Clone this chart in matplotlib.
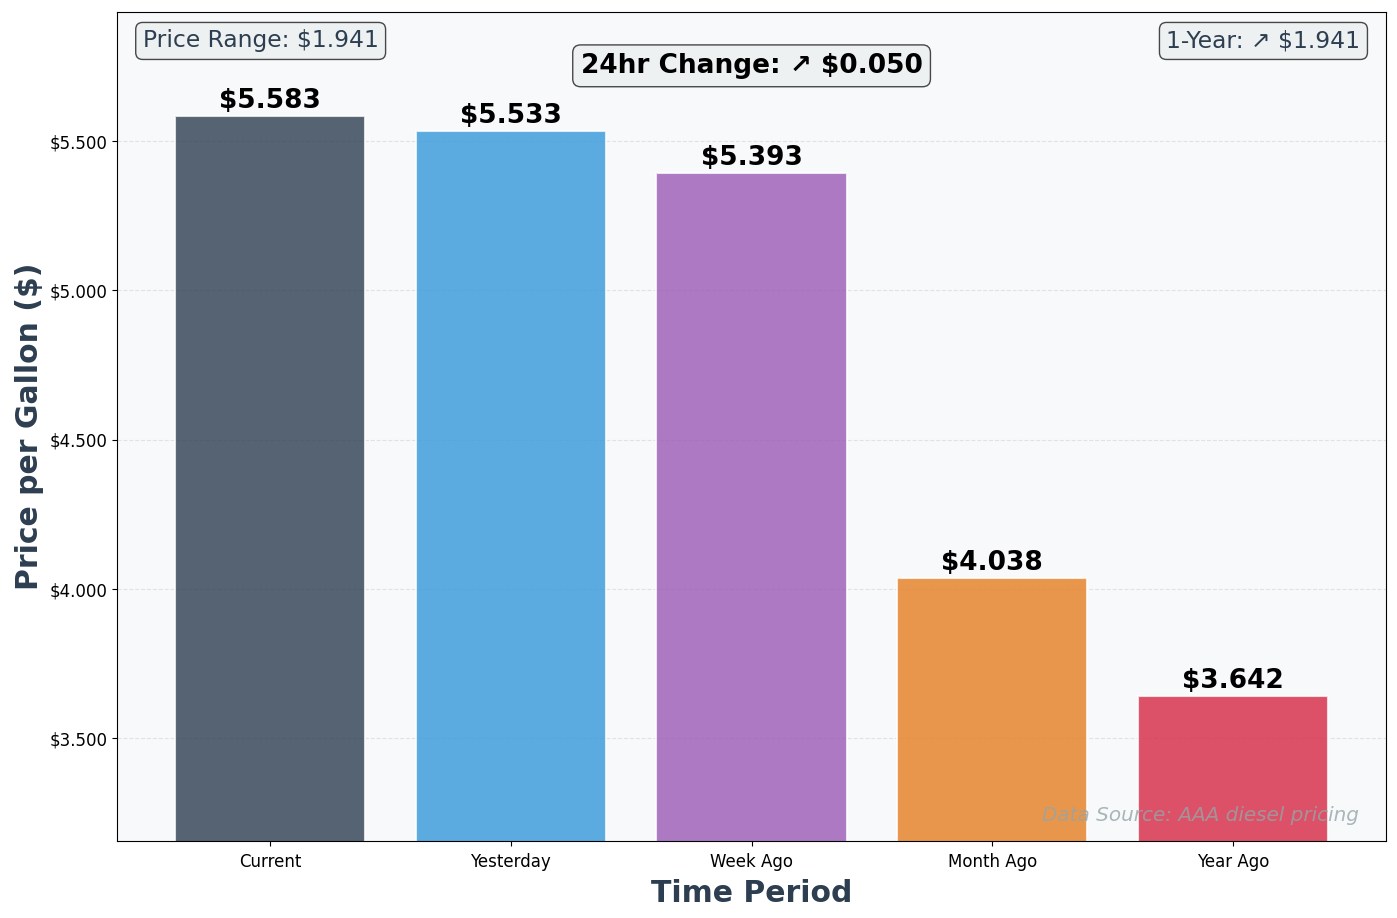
import matplotlib
matplotlib.use("Agg")
import matplotlib.pyplot as plt
from matplotlib.ticker import FuncFormatter

# data
periods = ["Current", "Yesterday", "Week Ago", "Month Ago", "Year Ago"]
prices = [5.583, 5.533, 5.393, 4.038, 3.642]
colors = ["#2c3e50", "#3498db", "#9b59b6", "#e67e22", "#d62744"]

price_range = max(prices) - min(prices)
change_24h = prices[0] - prices[1]
change_1y = prices[0] - prices[4]

fig, ax = plt.subplots(figsize=(13.97, 9.18), dpi=100)
fig.subplots_adjust(left=0.084, right=0.992, top=0.987, bottom=0.084)
ax.set_facecolor("#f8f9fa")

bars = ax.bar(periods, prices, width=0.79, color=colors, alpha=0.8,
              edgecolor="white", linewidth=1.5)

# value labels
for b, p in zip(bars, prices):
    ax.text(b.get_x() + b.get_width() / 2, p + 0.006, f"${p:.3f}",
            ha="center", va="bottom", fontsize=19, fontweight="bold")

ax.set_ylim(min(prices) - 0.25 * price_range, max(prices) + 0.18 * price_range)
ax.set_yticks([3.5, 4.0, 4.5, 5.0, 5.5])
ax.yaxis.set_major_formatter(FuncFormatter(lambda v, _: f"${v:.3f}"))
ax.tick_params(labelsize=12)
ax.tick_params(axis="x", pad=5)
ax.grid(axis="y", linestyle="--", alpha=0.3)
ax.set_axisbelow(True)

ax.set_xlabel("Time Period", fontsize=21.5, fontweight="bold", color="#2c3e50", labelpad=6)
ax.set_ylabel("Price per Gallon ($)", fontsize=21.5, fontweight="bold", color="#2c3e50")

box = dict(boxstyle="round,pad=0.3", facecolor="#ecf0f1", edgecolor="#1c1c1c", alpha=0.8)
ax.text(0.02, 0.965, f"Price Range: ${price_range:.3f}", transform=ax.transAxes,
        ha="left", va="center", fontsize=16.8, color="#2c3e50", bbox=box)
arrow = "↗" if change_1y >= 0 else "↘"
ax.text(0.98, 0.965, f"1-Year: {arrow} ${abs(change_1y):.3f}", transform=ax.transAxes,
        ha="right", va="center", fontsize=16.8, color="#2c3e50", bbox=box)
arrow = "↗" if change_24h >= 0 else "↘"
ax.text(0.5, 0.935, f"24hr Change: {arrow} ${abs(change_24h):.3f}", transform=ax.transAxes,
        ha="center", va="center", fontsize=19, fontweight="bold", bbox=box)

ax.text(0.979, 0.031, "Data Source: AAA diesel pricing", transform=ax.transAxes,
        ha="right", va="center", fontsize=14.4, style="italic", color="#95a5a6", alpha=0.8)

plt.savefig("out.png", dpi=100)
